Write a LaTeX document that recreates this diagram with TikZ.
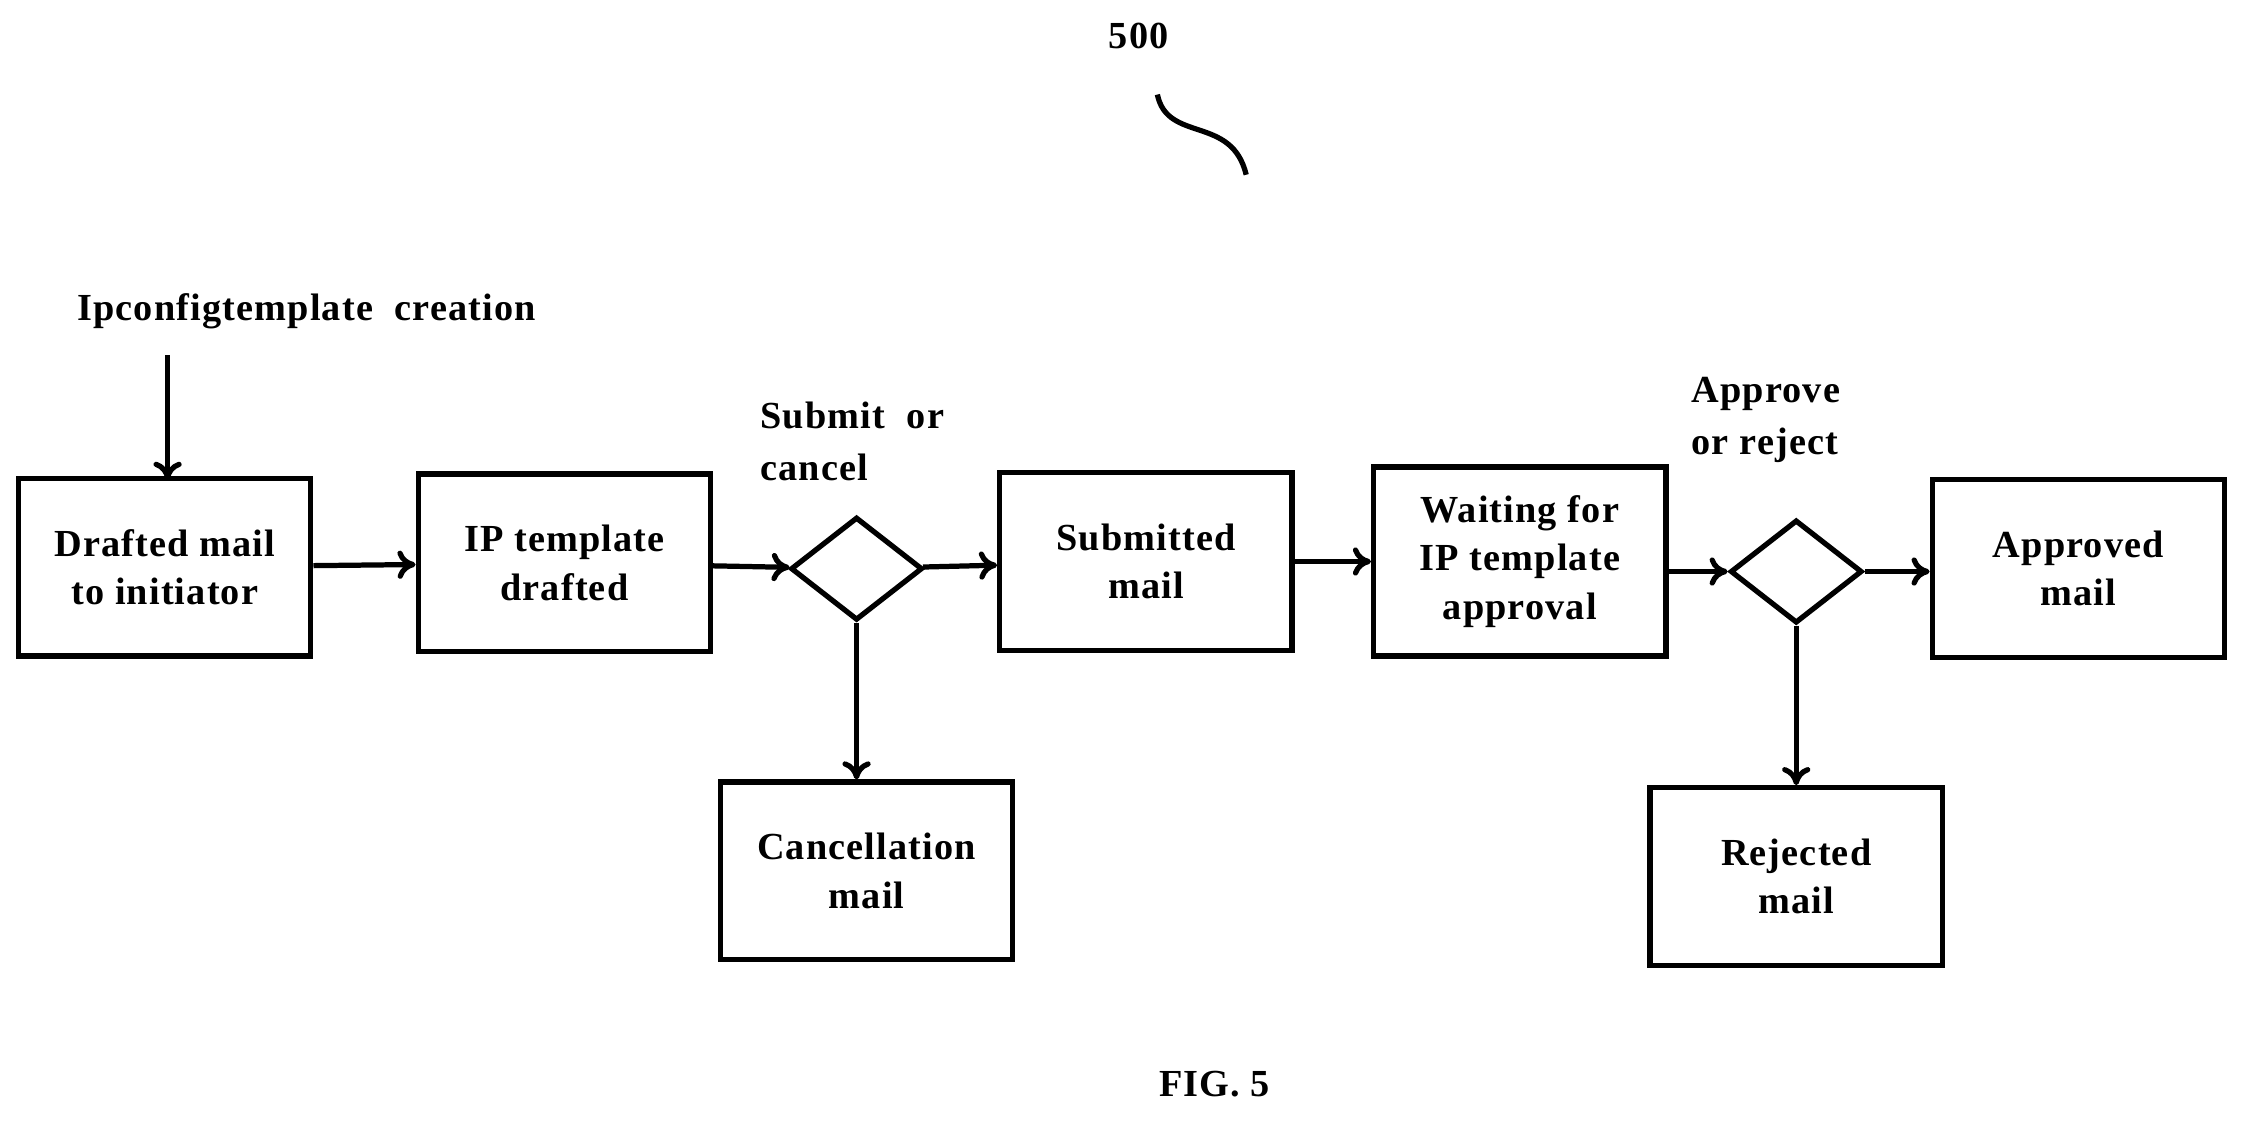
\documentclass[tikz,border=0pt]{standalone}
\usepackage{fontspec}
\setmainfont{Liberation Serif}[LetterSpace=3]
\usetikzlibrary{arrows.meta,shapes.geometric}
\tikzset{
  box/.style={draw, line width=2.6pt, minimum width=5.1cm, minimum height=3.1cm, align=center, font=\fontsize{19}{24}\selectfont\bfseries},
  dec/.style={draw, diamond, line width=2.6pt, minimum width=2.3cm, minimum height=1.8cm, inner sep=0pt},
  lbl/.style={font=\fontsize{19}{26}\selectfont\bfseries, align=left},
  flow/.style={line width=2.6pt, -{To[length=9pt,width=14pt]}}
}
\begin{document}
\begin{tikzpicture}[x=0.025cm,y=-0.025cm]
      \useasboundingbox (0,0) rectangle (1568,783);
      %nodes
      \node[box] (draft) at (115,396) {Drafted mail\\to initiator};
      \node[box] (ipdraft) at (394,393) {IP template\\drafted};
      \node[dec] (d1) at (598,397) {};
      \node[box] (submitted) at (800,392) {Submitted\\mail};
      \node[box, minimum height=3.3cm] (waiting) at (1061,392) {Waiting for\\IP template\\approval};
      \node[dec] (d2) at (1254,399) {};
      \node[box] (approved) at (1451,397) {Approved\\mail};
      \node[box] (cancel) at (605,608) {Cancellation\\mail};
      \node[box] (rejected) at (1254,612) {Rejected\\mail};
      %labels
      \node[lbl] (create) at (214,217) {Ipconfigtemplate\ \ creation};
      \node[lbl, anchor=west] (subc) at (526,308) {Submit\ \ or\\cancel};
      \node[lbl, anchor=west] (apr) at (1176,293) {Approve\\or reject};
      \node[lbl] (num) at (795,25) {500};
      \node[lbl] (fig) at (848,757) {FIG. 5};
      \coordinate (s1) at (808,66);
      \coordinate (s2) at (870,122);
      %arrows
      \draw[flow] (117,248) -- (117,335);
      \draw[flow] (draft) -- (ipdraft);
      \draw[flow] (ipdraft) -- (d1);
      \draw[flow] (d1) -- (submitted);
      \draw[flow] (submitted) -- (waiting);
      \draw[flow] (waiting.east |- d2) -- (d2);
      \draw[flow] (d2) -- (approved.west |- d2);
      \draw[flow] (d1.south) -- (d1.south |- cancel.north);
      \draw[flow] (d2) -- (rejected);
      %squiggle
      \draw[line width=2.6pt] (s1) .. controls (815,100) and (860,80) .. (s2);
\end{tikzpicture}
\end{document}
